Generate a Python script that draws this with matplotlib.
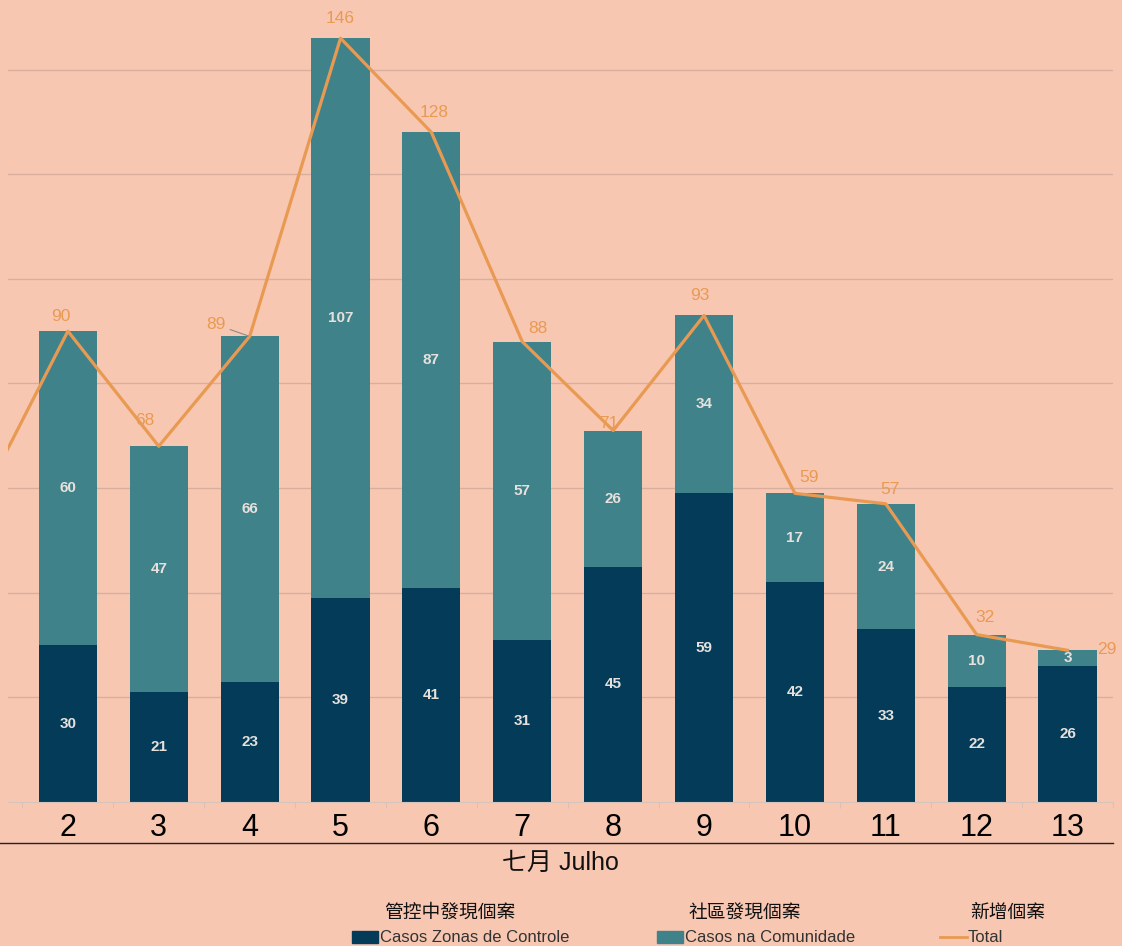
import matplotlib.pyplot as plt
import numpy as np
from matplotlib.lines import Line2D
from matplotlib.patches import Rectangle

plt.rcParams['font.family'] = ['Liberation Sans', 'Noto Sans CJK TC', 'DejaVu Sans']
estreita = ['Liberation Sans Narrow', 'Liberation Sans', 'Noto Sans CJK TC', 'DejaVu Sans']

dias = [2, 3, 4, 5, 6, 7, 8, 9, 10, 11, 12, 13]
controle = [30, 21, 23, 39, 41, 31, 45, 59, 42, 33, 22, 26]
comunidade = [60, 47, 66, 107, 87, 57, 26, 34, 17, 24, 10, 3]
total = [90, 68, 89, 146, 128, 88, 71, 93, 59, 57, 32, 29]
total_dia1 = 56  # dia 1, fora do grafico (so a linha aparece)

# deslocamento dos rotulos do total (pontos)
desloc = [(-5, 5), (-10, 13), (-24, 3), (0, 9), (2, 9), (11, 4), (-3, 0), (-3, 9),
          (10, 6), (3, 5), (6, 7), (28, -5)]

fundo = '#F8C7B2'
escuro = '#033B58'
teal = '#40828A'
laranja = '#E99A52'

fig = plt.figure(figsize=(11.22, 9.46), dpi=100)
fig.patch.set_facecolor(fundo)
ax = fig.add_axes([8/1122, 144/946, 1105/1122, 802/946])
ax.set_facecolor(fundo)

x = np.array(dias)
ax.bar(x, controle, width=0.64, color=escuro, zorder=2)
ax.bar(x, comunidade, bottom=controle, width=0.64, color=teal, zorder=2)

xl = np.concatenate([[dias[0] - 1], x])
yl = np.concatenate([[total_dia1], total])
ax.plot(xl, yl, color=laranja, lw=2.3, zorder=3, clip_on=True)

for i in range(len(dias)):
    ax.text(x[i], controle[i] / 2, str(controle[i]), ha='center', va='center',
            color='#E6E1DC', fontsize=11, fontweight='bold', zorder=4)
    ax.text(x[i], controle[i] + comunidade[i] / 2, str(comunidade[i]), ha='center',
            va='center', color='#E6E1DC', fontsize=11, fontweight='bold', zorder=4)
    seta = None
    if total[i] == 89:
        seta = dict(arrowstyle='-', color='#8A8A8A', lw=0.8, shrinkA=1, shrinkB=1)
    ax.annotate(str(total[i]), (x[i], total[i]), xytext=desloc[i],
                textcoords='offset points', ha='center', va='bottom',
                color=laranja, fontsize=12.5, fontweight='medium', zorder=4,
                annotation_clip=False, arrowprops=seta)

ax.set_xlim(1.341, 13.472)
ax.set_ylim(0, 153.3)
ax.set_yticks(np.arange(20, 141, 20))
ax.yaxis.grid(True, color='#D8AE9E', lw=1)
ax.set_axisbelow(True)
ax.tick_params(axis='y', left=False, labelleft=False)
ax.set_xticks(x)
ax.set_xticklabels([str(d) for d in dias], fontsize=22, family=estreita)
ax.tick_params(axis='x', length=0, pad=8)
ax.set_xticks(np.arange(1.5, 13.6, 1), minor=True)
ax.tick_params(axis='x', which='minor', length=4, color='#CFC0B8')
for s in ['top', 'right', 'left']:
    ax.spines[s].set_visible(False)
ax.spines['bottom'].set_color('#D4C4BC')

fig.add_artist(Line2D([0, 1113/1122], [103/946, 103/946], color='#222222', lw=1))
fig.text(560/1122, 83/946, '七月 Julho', ha='center', va='center', fontsize=18,
         color='#111111', family=estreita)

# legenda
for cx, nome in [(450, '管控中發現個案'), (745, '社區發現個案'), (1008, '新增個案')]:
    fig.text(cx/1122, 34/946, nome, ha='center', va='center', fontsize=13.5,
             color='#111111', family=['Noto Sans CJK TC', 'DejaVu Sans'])
fig.add_artist(Rectangle((352/1122, 3/946), 26/1122, 12/946, color=escuro,
                         transform=fig.transFigure))
fig.text(380/1122, 9/946, 'Casos Zonas de Controle', ha='left', va='center',
         fontsize=12, color='#333333', family=estreita)
fig.add_artist(Rectangle((657/1122, 3/946), 26/1122, 12/946, color=teal,
                         transform=fig.transFigure))
fig.text(685/1122, 9/946, 'Casos na Comunidade', ha='left', va='center',
         fontsize=12, color='#333333', family=estreita)
fig.add_artist(Line2D([940/1122, 967/1122], [9/946, 9/946], color=laranja, lw=2))
fig.text(968/1122, 9/946, 'Total', ha='left', va='center', fontsize=12,
         color='#333333', family=estreita)

plt.savefig('out.png', dpi=100, facecolor=fundo)
